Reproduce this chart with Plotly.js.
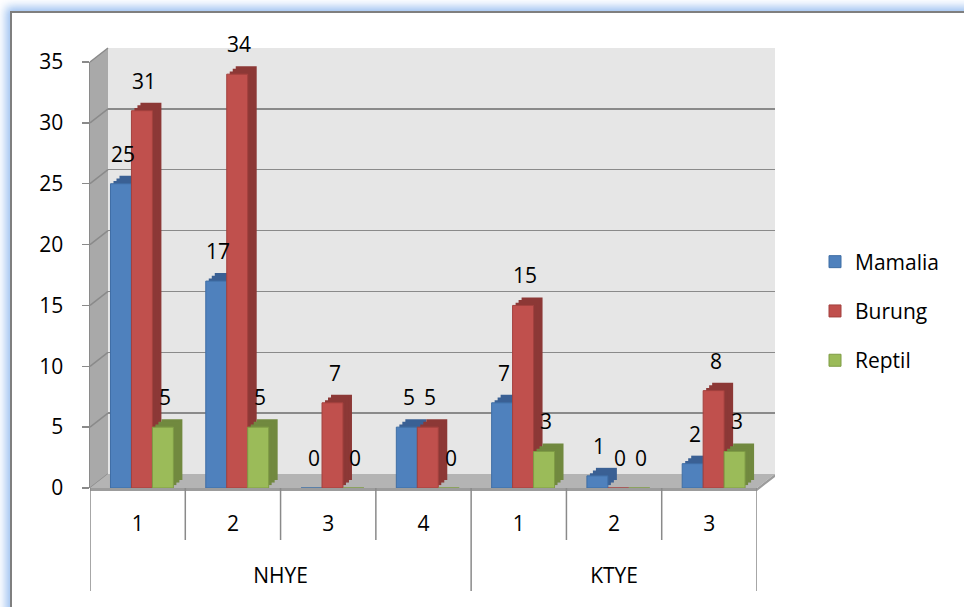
<!DOCTYPE html>
<html><head><meta charset="utf-8">
<script src="https://cdn.plot.ly/plotly-3.0.1.min.js"></script>
<style>
html,body{margin:0;padding:0;background:#fff;overflow:hidden;width:964px;height:607px;}
#frame{position:absolute;left:10px;top:11px;width:1100px;height:800px;border-top:2px solid #7f7f7f;border-left:2px solid #7f7f7f;box-shadow:0 0 9px 4px rgba(120,170,235,0.75);background:#fff;}
#chart{position:absolute;left:0;top:0;width:964px;height:607px;}
</style></head><body>
<div id="frame"></div><div id="chart"></div>
<script>
// ---- data ----
const groups = ['NHYE','NHYE','NHYE','NHYE','KTYE','KTYE','KTYE'];
const subs = ['1','2','3','4','1','2','3'];
const seriesNames = ['Mamalia','Burung','Reptil'];
const mamalia = [25,17,0,5,7,1,2];
const burung = [31,34,7,5,15,0,8];
const reptil = [5,5,0,0,3,0,3];
const yTicks = [0,5,10,15,20,25,30,35];

// ---- styles ----
const series = [mamalia, burung, reptil];
const frontColors = ['#4f81bd','#c0504d','#9bbb59'];
const lineColors = ['#3f6ea5','#a3413e','#7f9c45'];
const sideColors = ['#3a6094','#8c3836','#71893f'];
const FONT = 'Open Sans, Noto Sans, sans-serif';
const FS = 21;
const GRID = '#8a8a8a';

// ---- geometry (pixels) ----
const L=90, T=48, R=777, B=488;
const PW=R-L, PH=B-T;
const FRONT_W=667, FRONT_H=426;
const WALL_DX=18, WALL_DY=14;
const BAR_DX=9, BAR_DY=8;
const YMAX=35;
const BARGAP=0.34;
const GROUP_SHIFT=0.045;   // bars sit slightly right of the category centre (3D view)
function fx(px){return (px-L)/PW;}
function fy(py){return (B-py)/PH;}
function dom(dx,dy){return {x:[dx/PW,(dx+FRONT_W)/PW], y:[dy/PH,(dy+FRONT_H)/PH]};}

const xy = [groups, subs];
const idx = subs.map((_, i) => i);
const XR = [-0.5, subs.length - 0.5];
const barW = (1 - BARGAP) / series.length;
const barOffset = s => (s - series.length/2) * barW + GROUP_SHIFT;
const traces = [];
const layout = {
  width:964, height:607,
  margin:{l:L, r:964-R, t:T, b:607-B, pad:0},
  paper_bgcolor:'rgba(0,0,0,0)', plot_bgcolor:'rgba(0,0,0,0)',
  barmode:'group', bargap:BARGAP, bargroupgap:0,
  showlegend:true,
  font:{family:FONT, size:FS, color:'#000'},
  legend:{x:fx(815), y:fy(311), xanchor:'left', yanchor:'middle', font:{family:FONT,size:FS,color:'#000'},
          bgcolor:'rgba(0,0,0,0)', tracegroupgap:19, traceorder:'grouped'},
  shapes:[], annotations:[]
};

// subplot 1 : back wall with gridlines
const wd = dom(WALL_DX, WALL_DY);
layout.xaxis = {domain:wd.x, range:[0,1], visible:false, fixedrange:true};
layout.yaxis = {domain:wd.y, range:[0,YMAX], tickvals:yTicks, showgrid:true, gridcolor:GRID, gridwidth:1.5,
                showticklabels:false, ticks:'', zeroline:false, showline:false, anchor:'x'};
traces.push({type:'scatter', x:[null], y:[null], xaxis:'x', yaxis:'y', showlegend:false, hoverinfo:'skip'});

// subplots 2..4 : depth copies of the bars (3D sides)
const depthSteps = [3,2,1];
depthSteps.forEach((k, j) => {
  const n = j + 2;
  const d = dom(BAR_DX*k/3, BAR_DY*k/3);
  layout['xaxis'+n] = {domain:d.x, type:'multicategory', range:XR, visible:false, anchor:'y'+n};
  layout['yaxis'+n] = {domain:d.y, range:[0,YMAX], visible:false, anchor:'x'+n};
  series.forEach((vals, s) => {
    traces.push({type:'bar', x:xy, y:vals, xaxis:'x'+n, yaxis:'y'+n, showlegend:false, hoverinfo:'skip',
                 width:barW, offset:barOffset(s),
                 marker:{color:sideColors[s], line:{width:0}}});
  });
});

// subplot 5 : front bars and axes
const fd = dom(0,0);
layout.xaxis5 = {domain:fd.x, type:'multicategory', range:XR, anchor:'y5',
                 ticks:'', showticklabels:false, showline:false, showgrid:false, zeroline:false, showdividers:false};
layout.yaxis5 = {domain:fd.y, range:[0,YMAX], tickvals:yTicks, anchor:'x5',
                 ticks:'outside', ticklen:7, tickwidth:1.5, tickcolor:GRID,
                 showline:true, linecolor:GRID, linewidth:1.5, showgrid:false, zeroline:false,
                 tickfont:{family:FONT,size:FS,color:'#000'}, ticklabelstandoff:14};
series.forEach((vals, s) => {
  traces.push({type:'bar', name:seriesNames[s], x:xy, y:vals, xaxis:'x5', yaxis:'y5', legendgroup:seriesNames[s],
               width:barW, offset:barOffset(s),
               marker:{color:frontColors[s], line:{color:lineColors[s], width:1}}});
});

// category labels (two levels) on overlay axes
const groupNames = [], groupCenters = [], groupBounds = [-0.5];
groups.forEach((g, i) => {
  if (i === 0 || g !== groups[i-1]) {
    if (i > 0) groupBounds.push(i - 0.5);
    groupNames.push(g);
    const last = groups.lastIndexOf(g);
    groupCenters.push((i + last) / 2);
  }
});
groupBounds.push(groups.length - 0.5);
layout.xaxis6 = {overlaying:'x5', anchor:'y5', side:'bottom', range:XR, tickvals:idx, ticktext:subs,
                 ticks:'', showgrid:false, zeroline:false, showline:false, ticklabelstandoff:21,
                 tickfont:{family:FONT,size:FS,color:'#000'}};
layout.xaxis7 = {overlaying:'x5', anchor:'y5', side:'bottom', range:XR, tickvals:groupCenters, ticktext:groupNames,
                 ticks:'', showgrid:false, zeroline:false, showline:false, ticklabelstandoff:73,
                 tickfont:{family:FONT,size:FS,color:'#000'}};
traces.push({type:'scatter', x:[null], y:[null], xaxis:'x6', yaxis:'y5', showlegend:false, hoverinfo:'skip'});
traces.push({type:'scatter', x:[null], y:[null], xaxis:'x7', yaxis:'y5', showlegend:false, hoverinfo:'skip'});

// boundary lines of the category table
const bounds = subs.map((_, i) => i - 0.5).concat([subs.length - 0.5]);
bounds.forEach(b => {
  const isGroup = groupBounds.indexOf(b) >= 0;
  layout.shapes.push({type:'line', xref:'x5', yref:'paper', x0:b, x1:b, y0:fy(B), y1:fy(isGroup ? 591 : 540),
                      line:{color:GRID, width:1.5}});
});

// value labels
series.forEach((vals, s) => {
  vals.forEach((v, i) => {
    layout.annotations.push({xref:'x5', yref:'y5', x:i + barOffset(s) + barW/2, y:v,
      text:String(v), showarrow:false, yshift:30, xshift:2, font:{family:FONT,size:FS,color:'#000'}});
  });
});

// 3D walls (decoration)
const yFront = v => fy(B - v/YMAX*FRONT_H);
const yBack = v => fy(B - WALL_DY - v/YMAX*FRONT_H);
const xF0 = fx(L), xB0 = fx(L+WALL_DX), xF1 = fx(L+FRONT_W), xB1 = fx(L+FRONT_W+WALL_DX);
function path(pts){return 'M' + pts.map(p => p[0].toFixed(5)+','+p[1].toFixed(5)).join(' L') + ' Z';}
layout.shapes.push({type:'rect', xref:'paper', yref:'paper', x0:xB0, x1:xB1, y0:yBack(0), y1:yBack(YMAX),
                    fillcolor:'#e6e6e6', line:{width:0}, layer:'below'});
layout.shapes.push({type:'path', xref:'paper', yref:'paper', layer:'below', fillcolor:'#a9a9a9', line:{width:0},
                    path:path([[xF0,yFront(0)],[xF0,yFront(YMAX)],[xB0,yBack(YMAX)],[xB0,yBack(0)]])});
yTicks.forEach(v => {
  layout.shapes.push({type:'line', xref:'paper', yref:'paper', layer:'below', x0:xF0, y0:yFront(v), x1:xB0, y1:yBack(v),
                      line:{color:GRID, width:1.5}});
});
layout.shapes.push({type:'path', xref:'paper', yref:'paper', layer:'below', fillcolor:'#b4b4b4', line:{width:0},
                    path:path([[xF0,yFront(0)],[xB0,yBack(0)],[xB1,yBack(0)],[xF1,yFront(0)]])});
layout.shapes.push({type:'path', xref:'paper', yref:'paper', layer:'below', fillcolor:'#9c9c9c', line:{width:0},
                    path:path([[xF0,yFront(0)],[xF1,yFront(0)],[xB1,yBack(0)],[xB1,yBack(0)-3/PH],[xF1,yFront(0)-3/PH],[xF0,yFront(0)-3/PH]])});

Plotly.newPlot('chart', traces, layout, {staticPlot:true, displayModeBar:false});
</script>
</body></html>
